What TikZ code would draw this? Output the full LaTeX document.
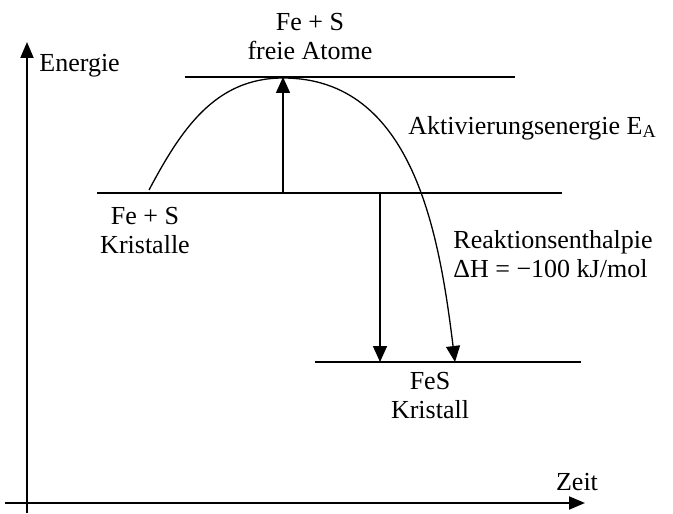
\documentclass[tikz,border=0pt]{standalone}
\usepackage{fontspec}
\setmainfont{Liberation Serif}
\usepackage{tikz}
\usetikzlibrary{positioning, arrows.meta}

\begin{document}
\begin{tikzpicture}[
        x=0.5pt, y=-0.5pt,
        lbl/.style={align=center, font=\fontsize{13}{14.5}\selectfont, inner sep=0pt},
        lbll/.style={lbl, align=left, anchor=west},
        axis/.style={line width=1pt, -{Triangle[length=8pt, width=6.5pt]}},
        level/.style={line width=0.75pt},
        arr/.style={-{Triangle[length=8pt, width=7pt]}, line width=0.75pt},
        curve/.style={line width=0.65pt, -{Triangle[length=8pt, width=7pt]}}
    ]
    \useasboundingbox (0,0) rectangle (673,513);
    % Achsen
    \coordinate (o1) at (27,513);
    \coordinate (ytop) at (27,42);
    \coordinate (o2) at (5,503);
    \coordinate (xend) at (585,503);
    \draw[axis] (o1) -- (ytop);
    \draw[axis] (o2) -- (xend);
    \node[lbll] (energie) at (39,66) {Energie};
    \node[lbl] (zeit) at (577,482) {Zeit};
    % Energieniveaus
    \coordinate (t1) at (185,77);  \coordinate (t2) at (515,77);
    \coordinate (m1) at (97,193);  \coordinate (m2) at (562,193);
    \coordinate (b1) at (315,362); \coordinate (b2) at (581,362);
    \draw[level] (t1) -- (t2);
    \draw[level] (m1) -- (m2);
    \draw[level] (b1) -- (b2);
    \node[lbl] (atome) at (310,37) {Fe + S\\freie Atome};
    \node[lbl] (kristalle) at (145,231) {Fe + S\\Kristalle};
    \node[lbl] (fes) at (430,396) {FeS\\Kristall};
    % Pfeile
    \coordinate (ea0) at (283,193); \coordinate (ea1) at (283,77);
    \coordinate (dh0) at (380,193); \coordinate (dh1) at (380,362);
    \draw[arr] (ea0) -- (ea1);
    \draw[arr] (dh0) -- (dh1);
    \node[lbll] (aktiv) at (408,128) {Aktivierungsenergie E\textsubscript{A}};
    \node[lbll] (enth) at (453,254) {Reaktionsenthalpie\\ΔH = −100 kJ/mol};
    % Reaktionsweg
    \coordinate (c0) at (149,190);
    \coordinate (c1) at (283,78);
    \coordinate (c2) at (455,362);
    \draw[curve] (c0) to[out=62, in=180] (c1) to[out=0, in=97] (c2);
\end{tikzpicture}
\end{document}
